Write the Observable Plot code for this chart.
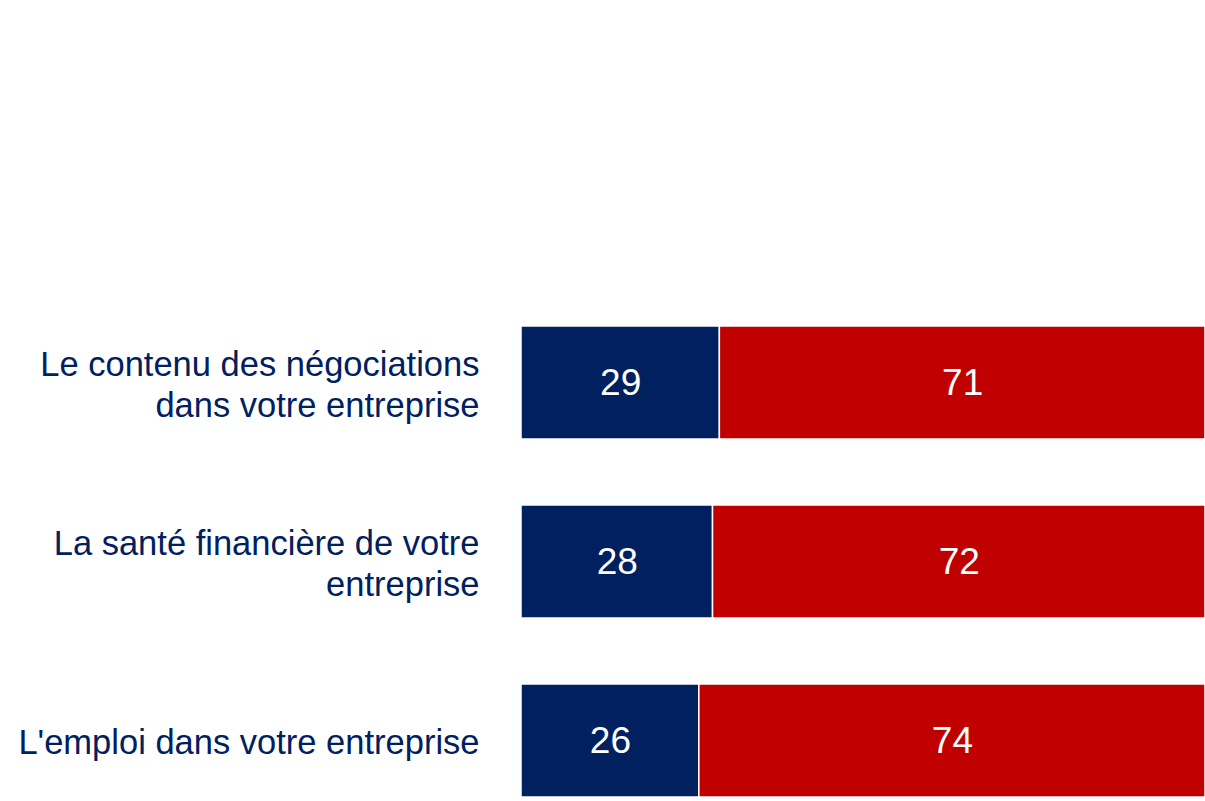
<!DOCTYPE html>
<html>
<head>
<meta charset="utf-8">
<script src="https://cdn.jsdelivr.net/npm/d3@7"></script>
<script src="https://cdn.jsdelivr.net/npm/@observablehq/plot@0.6"></script>
<style>
  html, body { margin: 0; padding: 0; background: #fff; }
  #chart { width: 1205px; height: 801px; overflow: hidden; }
</style>
</head>
<body>
<div id="chart"></div>
<script>
const categories = [
  "Le contenu des négociations\ndans votre entreprise",
  "La santé financière de votre\nentreprise",
  "L'emploi dans votre entreprise"
];
const seriesNames = ["Oui", "Non"];
const valuesOui = [29, 28, 26];
const valuesNon = [71, 72, 74];
const colors = ["#002060", "#C00000"];

const data = [];
categories.forEach((c, i) => {
  data.push({category: c, series: seriesNames[0], value: valuesOui[i]});
  data.push({category: c, series: seriesNames[1], value: valuesNon[i]});
});

const font = "'Liberation Sans', Arial, sans-serif";

const chart = Plot.plot({
  width: 1205,
  height: 801,
  marginLeft: 521,
  marginRight: 0,
  marginTop: 326,
  marginBottom: 4,
  style: {fontFamily: font, background: "#fff"},
  x: {domain: [0, 100], axis: null},
  y: {domain: categories, paddingInner: 0.369, paddingOuter: 0, label: null},
  color: {domain: seriesNames, range: colors},
  marks: [
    Plot.barX(data, Plot.stackX({x: "value", y: "category", fill: "series", z: "series", stroke: "white", strokeWidth: 1.5, order: seriesNames})),
    Plot.text(data, Plot.stackX({x: "value", y: "category", z: "series", text: d => String(d.value), fill: "white", fontSize: 37, order: seriesNames})),
    Plot.axisY({tickSize: 0, tickPadding: 42, fontSize: 34.5, color: "#002060", lineHeight: 1.2, label: null})
  ]
});
document.getElementById("chart").appendChild(chart);
</script>
</body>
</html>
